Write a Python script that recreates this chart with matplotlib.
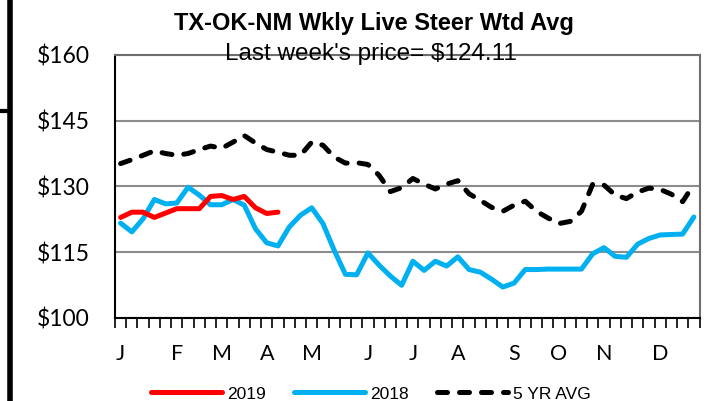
import matplotlib
matplotlib.use("Agg")
import matplotlib.pyplot as plt
from matplotlib.lines import Line2D
from matplotlib.ticker import FixedLocator, NullFormatter

# ---- data ----
weeks = list(range(52))
month_labels = ["J", "F", "M", "A", "M", "J", "J", "A", "S", "O", "N", "D"]
month_pos = [0, 5, 9, 13, 17, 22, 26, 30, 35, 39, 43, 48]

price_2019 = [122.9, 124.1, 124.1, 122.9, 123.9, 124.9, 124.9, 124.9, 127.7, 127.9,
              127.0, 127.7, 125.1, 123.8, 124.11]

price_2018 = [121.6, 119.6, 122.6, 127.0, 126.0, 126.2, 129.8, 128.0, 125.8, 125.8,
              127.0, 125.7, 120.3, 117.1, 116.4, 120.7, 123.4, 125.1, 121.5, 115.4,
              109.9, 109.8, 114.8, 112.0, 109.5, 107.4, 112.9, 110.8, 112.9, 111.8,
              113.9, 111.0, 110.4, 108.8, 107.0, 107.9, 111.0, 111.0, 111.1, 111.1,
              111.1, 111.1, 114.6, 116.0, 114.0, 113.8, 116.8, 118.1, 118.9, 119.0,
              119.1, 123.0]

avg_5yr = [135.2, 136.1, 137.1, 138.1, 137.5, 137.1, 137.5, 138.4, 139.2, 138.7,
           140.1, 141.6, 139.9, 138.4, 137.8, 137.1, 137.1, 140.1, 139.4, 136.7,
           135.3, 135.4, 135.0, 132.5, 128.8, 129.7, 131.8, 130.5, 129.4, 130.5,
           131.3, 128.3, 126.8, 125.2, 124.3, 125.7, 126.6, 124.3, 122.8, 121.5,
           122.0, 124.3, 130.5, 130.3, 128.0, 127.2, 128.7, 129.6, 129.3, 128.2,
           126.5, 130.5]

y_ticks = [100, 115, 130, 145, 160]
y_tick_labels = ["$100", "$115", "$130", "$145", "$160"]

title = "TX-OK-NM Wkly Live Steer Wtd Avg"
subtitle = "Last week's price= $124.11"

# ---- figure ----
W, H = 710, 401
fig = plt.figure(figsize=(W / 100, H / 100), dpi=100)
ax = fig.add_axes([115 / W, 1 - 317.7 / H, (699.5 - 115) / W, (317.7 - 55) / H])

lw = 3.6
ax.plot(weeks[:len(price_2019)], price_2019, color="#FF0000", lw=lw,
        solid_capstyle="round", solid_joinstyle="round", label="2019", zorder=4)
ax.plot(weeks[:len(price_2018)], price_2018, color="#00B0F0", lw=lw,
        solid_capstyle="round", solid_joinstyle="round", label="2018", zorder=3)
ax.plot(weeks[:len(avg_5yr)], avg_5yr, color="black", lw=lw, dashes=(2.0, 2.4),
        dash_capstyle="round", dash_joinstyle="round", label="5 YR AVG", zorder=3)

ax.set_xlim(-0.5, 51.5)
ax.set_ylim(100, 160)

ax.set_yticks(y_ticks)
ax.set_yticklabels(y_tick_labels, family="Lato", fontsize=16.5)
ax.tick_params(axis="y", length=0, pad=18)
ax.yaxis.grid(True, color="#8c8c8c", lw=1.5)
ax.set_axisbelow(True)

ax.set_xticks(month_pos)
ax.set_xticklabels(month_labels, family="Lato", fontsize=15.5)
ax.tick_params(axis="x", which="major", length=0, pad=19)
ax.xaxis.set_minor_locator(FixedLocator([i - 0.5 for i in range(53)]))
ax.xaxis.set_minor_formatter(NullFormatter())
ax.tick_params(axis="x", which="minor", length=7, width=1.2, color="black", direction="out")

for side in ["left", "bottom"]:
    ax.spines[side].set_color("black")
    ax.spines[side].set_linewidth(1.5)
for side in ["top", "right"]:
    ax.spines[side].set_color("#6e6e6e")
    ax.spines[side].set_linewidth(1.5)

fig.text(373.5 / W, 1 - 30 / H, title, ha="center", va="baseline",
         family="Liberation Sans", fontweight="bold", fontsize=17)
fig.text(370.5 / W, 1 - 60 / H, subtitle, ha="center", va="baseline",
         family="Liberation Sans", fontsize=17.5, zorder=10)

leg = fig.legend(loc="center", bbox_to_anchor=(371 / W, 1 - 394 / H), ncol=3,
                 frameon=False, prop={"family": "Liberation Sans", "size": 12.5},
                 handlelength=4.1, handletextpad=0.3, columnspacing=1.6,
                 borderpad=0, borderaxespad=0)

# left border decoration
fig.add_artist(Line2D([9.5 / W, 9.5 / W], [0, 1], color="black", lw=4, transform=fig.transFigure))
fig.add_artist(Line2D([0, 9.5 / W], [1 - 111 / H, 1 - 111 / H], color="black", lw=3,
                      transform=fig.transFigure))

fig.savefig("out.png", dpi=100)
